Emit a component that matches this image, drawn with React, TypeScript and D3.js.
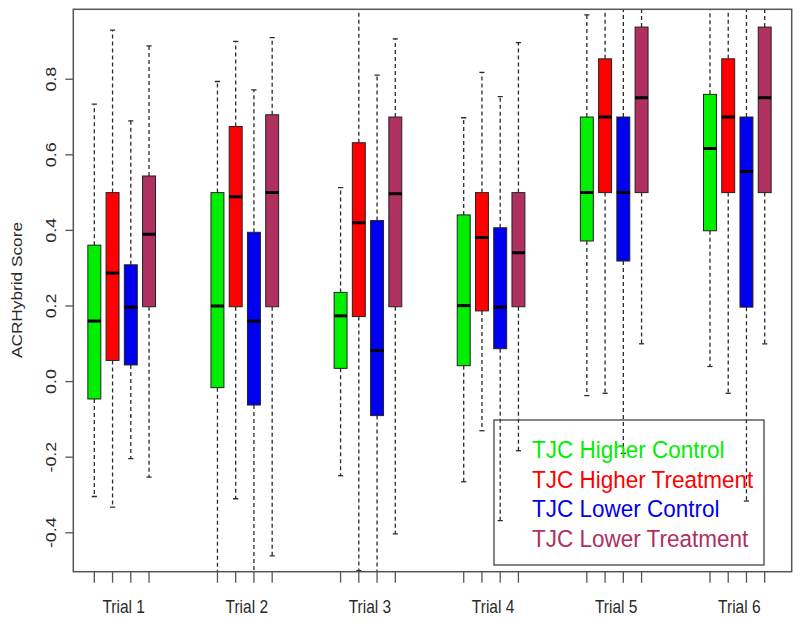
import React from "react";
import * as d3 from "d3";

// Trials along the x axis, four groups in each
const trials = ["Trial 1", "Trial 2", "Trial 3", "Trial 4", "Trial 5", "Trial 6"];
const groups = ["TJC Higher Control", "TJC Higher Treatment", "TJC Lower Control", "TJC Lower Treatment"];
const colors = ["#00ee00", "#ff0000", "#0000f0", "#b03060"];

// [lower whisker, Q1, median, Q3, upper whisker] per trial
const higherControl = [
  [-0.304, -0.046, 0.16, 0.361, 0.734],
  [-0.55, -0.016, 0.2, 0.5, 0.794],
  [-0.249, 0.035, 0.174, 0.236, 0.513],
  [-0.265, 0.042, 0.201, 0.441, 0.698],
  [-0.037, 0.372, 0.5, 0.7, 0.97],
  [0.04, 0.399, 0.617, 0.76, 1.05],
];
const higherTreatment = [
  [-0.332, 0.056, 0.287, 0.5, 0.93],
  [-0.31, 0.198, 0.489, 0.675, 0.9],
  [-0.5, 0.172, 0.42, 0.632, 1.05],
  [-0.13, 0.187, 0.381, 0.5, 0.818],
  [-0.031, 0.5, 0.7, 0.854, 1.05],
  [-0.031, 0.5, 0.7, 0.854, 1.05],
];
const lowerControl = [
  [-0.204, 0.044, 0.197, 0.309, 0.69],
  [-0.55, -0.062, 0.16, 0.395, 0.772],
  [-0.55, -0.09, 0.082, 0.426, 0.811],
  [-0.368, 0.087, 0.197, 0.407, 0.754],
  [-0.19, 0.319, 0.5, 0.7, 1.05],
  [-0.316, 0.197, 0.556, 0.7, 1.05],
];
const lowerTreatment = [
  [-0.253, 0.198, 0.39, 0.544, 0.888],
  [-0.461, 0.198, 0.5, 0.706, 0.91],
  [-0.403, 0.198, 0.497, 0.7, 0.907],
  [-0.183, 0.198, 0.341, 0.5, 0.897],
  [0.1, 0.5, 0.751, 0.938, 1.05],
  [0.1, 0.5, 0.751, 0.938, 1.05],
];
const series = [higherControl, higherTreatment, lowerControl, lowerTreatment];
const yTicks = [-0.4, -0.2, 0.0, 0.2, 0.4, 0.6, 0.8];

export default function App() {
  const width = 800;
  const height = 621;
  const frame = { left: 73.3, right: 791.7, top: 9.3, bottom: 571.7 };
  const groupStep = 6.75;
  const boxW = 0.71;
  const stretch = 1.15; // the picture is a bit taller than wide
  const font = "'Liberation Sans', Arial, sans-serif";
  const ink = "#2a2a2a";

  const xScale = d3.scaleLinear().domain([-1.152, 38.23]).range([frame.left, frame.right]);
  const yScale = d3.scaleLinear().domain([-0.503, 0.985]).range([frame.bottom, frame.top]);
  const pos = (t: number, g: number) => t * groupStep + g;
  const half = (xScale(boxW) - xScale(0)) / 2;
  const cap = half * 0.4;

  const renderBox = (t: number, g: number, s: number[]) => {
    const cx = xScale(pos(t, g));
    const [lo, q1, med, q3, hi] = s.map((v) => yScale(v));
    return (
      <g key={`${t}-${g}`}>
        <line x1={cx} x2={cx} y1={q3} y2={hi} stroke={ink} strokeWidth={1.3} strokeDasharray="4,3" />
        <line x1={cx} x2={cx} y1={q1} y2={lo} stroke={ink} strokeWidth={1.3} strokeDasharray="4,3" />
        <line x1={cx - cap} x2={cx + cap} y1={hi} y2={hi} stroke={ink} strokeWidth={1.3} />
        <line x1={cx - cap} x2={cx + cap} y1={lo} y2={lo} stroke={ink} strokeWidth={1.3} />
        <rect x={cx - half} y={q3} width={half * 2} height={q1 - q3} fill={colors[g]} stroke="#222" strokeWidth={1} />
        <line x1={cx - half} x2={cx + half} y1={med} y2={med} stroke="#000" strokeWidth={3} />
      </g>
    );
  };

  return (
    <svg width={width} height={height} style={{ position: "absolute", left: 0, top: 0, background: "#fff" }}>
      <defs>
        <clipPath id="plot">
          <rect x={frame.left} y={frame.top} width={frame.right - frame.left} height={frame.bottom - frame.top} />
        </clipPath>
      </defs>
      <rect width={width} height={height} fill="#fff" />

      <g clipPath="url(#plot)">
        {trials.map((_, t) => series.map((s, g) => renderBox(t, g, s[t])))}
      </g>

      <rect
        x={frame.left}
        y={frame.top}
        width={frame.right - frame.left}
        height={frame.bottom - frame.top}
        fill="none"
        stroke="#555"
        strokeWidth={1.5}
      />

      {/* y axis */}
      {yTicks.map((tick) => (
        <g key={tick}>
          <line x1={frame.left - 8} x2={frame.left} y1={yScale(tick)} y2={yScale(tick)} stroke="#555" strokeWidth={1.3} />
          <text
            transform={`translate(56, ${yScale(tick)}) scale(1, ${stretch}) rotate(-90)`}
            textAnchor="middle"
            fontFamily={font}
            fontSize={15.5}
            fill={ink}
          >
            {tick.toFixed(1)}
          </text>
        </g>
      ))}
      <text
        transform={`translate(21.5, 290) scale(1, ${stretch}) rotate(-90)`}
        textAnchor="middle"
        fontFamily={font}
        fontSize={15}
        fill={ink}
      >
        ACRHybrid Score
      </text>

      {/* x axis */}
      {trials.map((trial, t) => (
        <g key={trial}>
          {groups.map((_, g) => (
            <line
              key={g}
              x1={xScale(pos(t, g))}
              x2={xScale(pos(t, g))}
              y1={frame.bottom}
              y2={frame.bottom + 11}
              stroke="#555"
              strokeWidth={1.3}
            />
          ))}
          <text
            transform={`translate(${xScale(pos(t, 1.5)) + 2}, 613) scale(1, ${stretch})`}
            textAnchor="middle"
            fontFamily={font}
            fontSize={15.5}
            fill={ink}
          >
            {trial}
          </text>
        </g>
      ))}

      {/* legend */}
      <rect x={494} y={420} width={270} height={145} fill="none" stroke="#444" strokeWidth={1.3} />
      {groups.map((name, g) => (
        <text
          key={name}
          transform={`translate(532, ${458 + g * 29.5}) scale(1, ${stretch * 0.95})`}
          fontFamily={font}
          fontSize={22.5}
          fill={colors[g]}
        >
          {name}
        </text>
      ))}
    </svg>
  );
}
